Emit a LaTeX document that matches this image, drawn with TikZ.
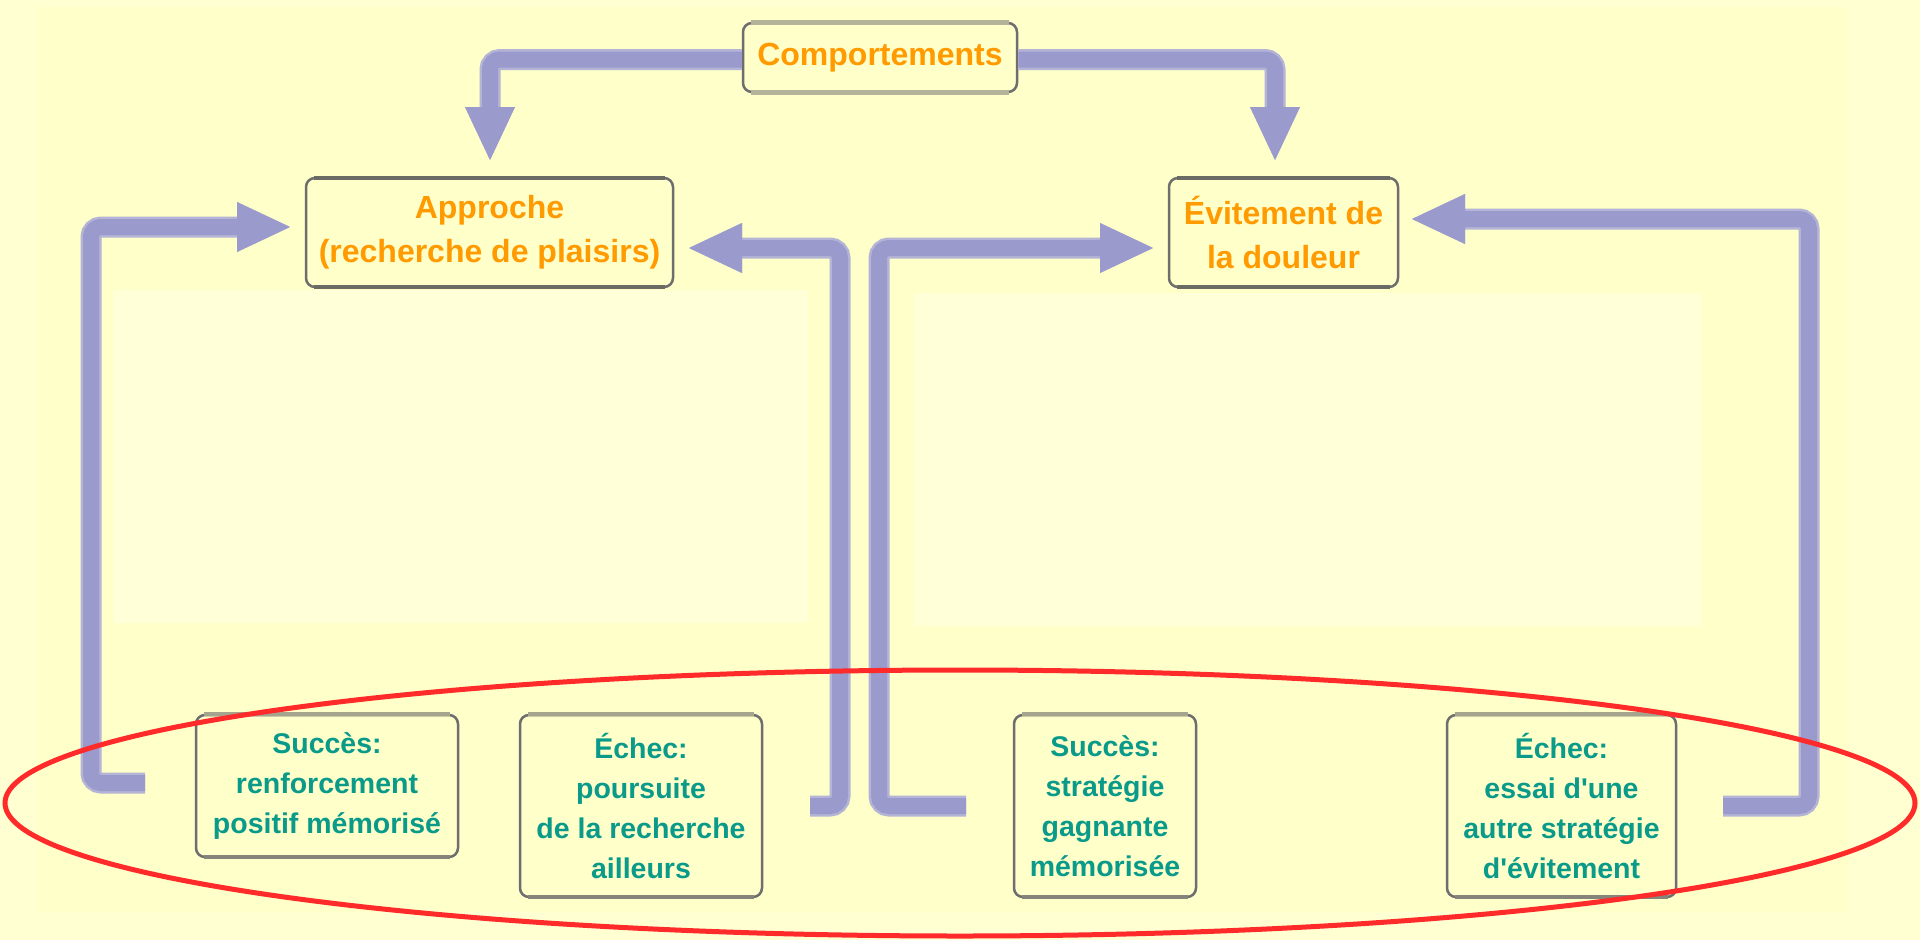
\documentclass[tikz,border=0pt]{standalone}
\usepackage{fontspec}
\setmainfont{Liberation Sans}
\usetikzlibrary{arrows.meta}
\definecolor{bgout}{HTML}{FFFFD2}
\definecolor{bgin}{HTML}{FFFFCA}
\definecolor{bglight}{HTML}{FFFFD8}
\definecolor{arrmain}{HTML}{9A9ACC}
\definecolor{arredge}{HTML}{B4B4D6}
\definecolor{orangetxt}{HTML}{FF9A00}
\definecolor{tealtxt}{HTML}{0A9A8A}
\definecolor{boxline}{HTML}{6E6E6E}
\definecolor{bandlight}{HTML}{B3B39A}
\definecolor{bandmid}{HTML}{A5A58E}
\definecolor{banddark}{HTML}{84847A}
\definecolor{bandgrey}{HTML}{6B6B66}
\definecolor{ellred}{HTML}{FF2A2A}
\begin{document}
\begin{tikzpicture}[x=1pt,y=-1pt,
  box/.style={draw=boxline, line width=2.5pt, rounded corners=9pt, fill=bgin, inner sep=0pt, align=center},
  topbox/.style={box, text=orangetxt, font=\fontsize{32}{44}\selectfont\bfseries},
  resbox/.style={box, text=tealtxt, font=\fontsize{28.5}{40}\selectfont\bfseries},
  shaftedge/.style={draw=arredge, line width=21pt, rounded corners=10pt, -{Triangle[length=53pt,width=50pt,line width=0pt]}},
  shaft/.style={draw=arrmain, line width=16pt, rounded corners=10pt, -{Triangle[length=53pt,width=50pt,line width=0pt]}},
  band/.style={line width=5pt, draw=#1},
  ell/.style={draw=ellred, line width=5pt}
]
\useasboundingbox (0,0) rectangle (1920,940);
% backgrounds
\fill[bgout] (0,0) rectangle (1920,940);
\fill[bgin] (37,7) rectangle (1848,912);
\fill[bglight] (113,290) rectangle (808,623);
\fill[bglight] (914,293) rectangle (1701,626);

% nodes
\node[topbox, minimum width=274pt, minimum height=69pt] (comp) at (880,57.5) {Comportements};
\node[topbox, minimum width=367pt, minimum height=109pt] (appr) at (489.5,232.5) {Approche\\(recherche de plaisirs)};
\node[topbox, minimum width=229pt, minimum height=109pt] (evit) at (1283.5,232.5) {Évitement de\\la douleur};
\node[resbox, minimum width=262pt, minimum height=142pt] (s1) at (327,786) {Succès:\\renforcement\\positif mémorisé};
\node[resbox, minimum width=242pt, minimum height=182pt] (e1) at (641,806) {Échec:\\poursuite\\de la recherche\\ailleurs};
\node[resbox, minimum width=182pt, minimum height=182pt] (s2) at (1105,806) {Succès:\\stratégie\\gagnante\\mémorisée};
\node[resbox, minimum width=229pt, minimum height=182pt] (e2) at (1561.5,806) {Échec:\\essai d\textquotesingle une\\autre stratégie\\d\textquotesingle évitement};

% box edge bands
\draw[band=bandlight] ([xshift=9pt,yshift=-1pt]comp.north west) -- ([xshift=-9pt,yshift=-1pt]comp.north east);
\draw[band=bandlight] ([xshift=9pt,yshift=1pt]comp.south west) -- ([xshift=-9pt,yshift=1pt]comp.south east);
\foreach \n in {appr,evit}{
  \draw[band=bandgrey, line width=4pt] ([xshift=9pt,yshift=-1pt]\n.north west) -- ([xshift=-9pt,yshift=-1pt]\n.north east);
  \draw[band=bandgrey, line width=4pt] ([xshift=9pt,yshift=1pt]\n.south west) -- ([xshift=-9pt,yshift=1pt]\n.south east);
}
\foreach \n in {s1,e1,s2,e2}{
  \draw[band=bandmid, line width=4pt] ([xshift=9pt,yshift=-0.5pt]\n.north west) -- ([xshift=-9pt,yshift=-0.5pt]\n.north east);
  \draw[band=banddark, line width=4pt] ([xshift=9pt,yshift=1pt]\n.south west) -- ([xshift=-9pt,yshift=1pt]\n.south east);
}

% connector end points
\coordinate (c1) at (490,160);
\coordinate (c2) at (1275,160);
\coordinate (l0) at (145,783);
\coordinate (l1) at (290,227);
\coordinate (r0) at (810,806);
\coordinate (r1) at (689,248);
\coordinate (v0) at (966,806);
\coordinate (v1) at (1153,248);
\coordinate (w0) at (1723,806);
\coordinate (w1) at (1412,219);

% connectors
\foreach \sty in {shaftedge,shaft}{
  \draw[\sty] ([yshift=-2pt]comp.west) -| (c1);
  \draw[\sty] ([yshift=-2pt]comp.east) -| (c2);
  \draw[\sty] (l0) -- ++(-54,0) |- (l1);
  \draw[\sty] (r0) -- ++(30,0) |- (r1);
  \draw[\sty] (v0) -- ++(-87,0) |- (v1);
  \draw[\sty] (w0) -- ++(86,0) |- (w1);
}

% red ellipse
\draw[ell] (960,803) ellipse [x radius=955pt, y radius=133pt];
\end{tikzpicture}
\end{document}
